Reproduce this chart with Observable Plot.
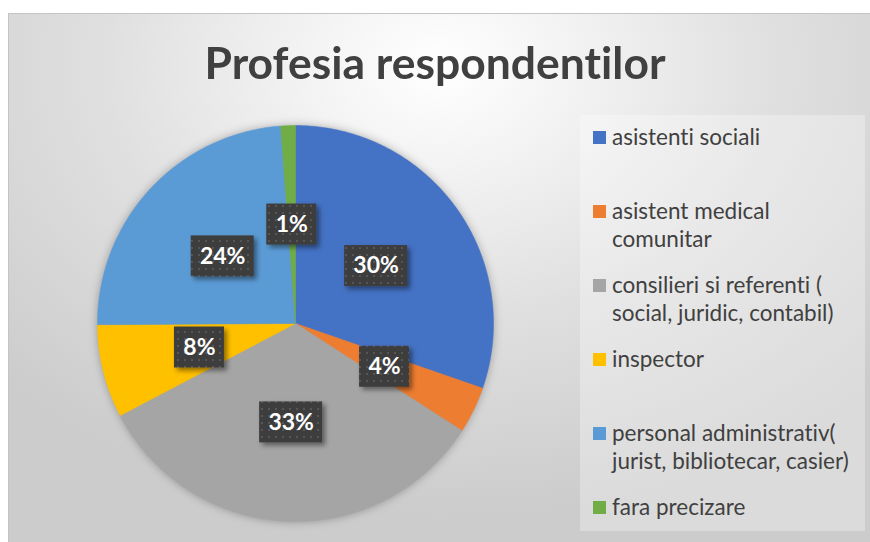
<!DOCTYPE html>
<html><head><meta charset="utf-8">
<script src="https://cdn.jsdelivr.net/npm/d3@7"></script>
<script src="https://cdn.jsdelivr.net/npm/@observablehq/plot@0.6"></script>
<style>
body{margin:0;background:#fff;}
#wrap{position:relative;width:870px;height:542px;overflow:hidden;font-family:Lato,"Open Sans",sans-serif;font-variant-ligatures:none;}
#bg{position:absolute;left:8px;top:13px;width:862px;height:529px;border-left:1px solid #c4c4c4;border-top:1px solid #c4c4c4;box-sizing:border-box;
background:radial-gradient(ellipse 70% 85% at 50% 10%, #ffffff 0%, #f3f3f3 22%, #e0e0e0 55%, #cccccc 100%);}
#title{position:absolute;left:0;width:870px;top:41px;text-align:center;font-size:43px;line-height:43px;font-weight:bold;color:#404040;white-space:nowrap;}
#title span{display:inline-block;transform-origin:50% 50%;}
#legend{position:absolute;left:580px;top:115px;width:285px;height:416px;background:rgba(255,255,255,0.3);}
.li{position:absolute;left:0;width:285px;font-size:22.5px;line-height:28px;color:#404040;}
.sw{position:absolute;left:13px;top:8px;width:13px;height:13px;}
.lt{position:absolute;left:32px;top:0;white-space:pre;}
#plot{position:absolute;left:0;top:0;}
#plot text{font-variant-ligatures:none;}
</style></head>
<body>
<div id="wrap">
  <div id="bg"></div>
  <div id="plot"></div>
  <div id="title"><span>Profesia respondentilor</span></div>
  <div id="legend"></div>
</div>
<script>
// ---- data ----
const categories = [
  "asistenti sociali",
  "asistent medical comunitar",
  "consilieri si referenti ( social, juridic, contabil)",
  "inspector",
  "personal administrativ( jurist, bibliotecar, casier)",
  "fara precizare"
];
const values = [30.3, 3.8, 33.2, 7.6, 23.9, 1.2];
const colors = ["#4472C4", "#ED7D31", "#A5A5A5", "#FFC000", "#5B9BD5", "#70AD47"];
const legendLines = [
  ["asistenti sociali"],
  ["asistent medical", "comunitar"],
  ["consilieri si referenti (", "social, juridic, contabil)"],
  ["inspector"],
  ["personal administrativ(", "jurist, bibliotecar, casier)"],
  ["fara precizare"]
];

// ---- geometry from data ----
const R = 198;               // pie radius in px
const CX = 295, CY = 323;    // pie centre in px
const W = 870, H = 542;
const total = d3.sum(values);
const arcs = d3.pie().sort(null).startAngle(0).endAngle(2 * Math.PI)(values);

const slices = [];
arcs.forEach((a, i) => {
  const name = categories[i];
  slices.push({name, x: 0, y: 0});
  const n = Math.max(2, Math.ceil((a.endAngle - a.startAngle) / 0.01));
  for (let k = 0; k <= n; k++) {
    const t = a.startAngle + (a.endAngle - a.startAngle) * k / n;
    slices.push({name, x: Math.sin(t), y: Math.cos(t)});
  }
  slices.push({name, x: 0, y: 0});
});

const labels = arcs.map((a, i) => {
  const m = (a.startAngle + a.endAngle) / 2;
  const text = Math.round(values[i] / total * 100) + "%";
  const w = (13 * text.length + 24) / R / 2, h = 41 / R / 2;
  const x = 0.5 * Math.sin(m), y = 0.5 * Math.cos(m);
  return {name: categories[i], text, x, y, x1: x - w, x2: x + w, y1: y - h, y2: y + h};
});

const sliceMarks = categories.map((c, i) =>
  Plot.line(slices.filter(d => d.name === c), {x: "x", y: "y", fill: colors[i], stroke: colors[i], strokeWidth: 0.5, className: "slice"})
);

const svg = Plot.plot({
  width: W, height: H, margin: 0,
  x: {domain: [-CX / R, (W - CX) / R], axis: null},
  y: {domain: [-(H - CY) / R, CY / R], axis: null},
  style: {background: "transparent", overflow: "visible"},
  marks: [
    Plot.dot([{x: 0, y: 0}], {x: "x", y: "y", r: R, fill: "#000", fillOpacity: 0.3, stroke: "none", className: "pieshadow"}),
    ...sliceMarks,
    Plot.rect(labels, {x1: "x1", x2: "x2", y1: "y1", y2: "y2", fill: "url(#dots)", className: "labelbox"}),
    Plot.text(labels, {x: "x", y: "y", text: "text", fill: "white", fontSize: 23, fontWeight: "bold", fontFamily: "Lato, 'Open Sans', sans-serif"})
  ]
});

// defs: dotted fill + shadows
const defs = d3.create("svg:defs");
const pat = defs.append("pattern").attr("id", "dots").attr("patternUnits", "userSpaceOnUse")
  .attr("width", 7).attr("height", 7);
pat.append("rect").attr("width", 7).attr("height", 7).attr("fill", "#3d3d3d");
pat.append("rect").attr("x", 2).attr("y", 2).attr("width", 2).attr("height", 2).attr("fill", "#575757");
const f1 = defs.append("filter").attr("id", "boxshadow").attr("x", "-20%").attr("y", "-20%").attr("width", "150%").attr("height", "150%");
f1.append("feDropShadow").attr("dx", 3).attr("dy", 3).attr("stdDeviation", 2.5).attr("flood-color", "#000").attr("flood-opacity", 0.45);
const f2 = defs.append("filter").attr("id", "blur").attr("x", "-20%").attr("y", "-20%").attr("width", "140%").attr("height", "140%");
f2.append("feGaussianBlur").attr("stdDeviation", 5);
svg.insertBefore(defs.node(), svg.firstChild);
svg.querySelectorAll(".labelbox rect").forEach(r => r.setAttribute("filter", "url(#boxshadow)"));
svg.querySelectorAll(".pieshadow circle").forEach(r => r.setAttribute("filter", "url(#blur)"));
document.getElementById("plot").appendChild(svg);

// legend
const legend = d3.select("#legend");
categories.forEach((c, i) => {
  const item = legend.append("div").attr("class", "li").style("top", (22 + i * 74 - 14) + "px");
  item.append("div").attr("class", "sw").style("background", colors[i]);
  item.append("div").attr("class", "lt").text(legendLines[i].join("\n"));
});

// fit title width to reference
const span = document.querySelector("#title span");
const tw = span.getBoundingClientRect().width;
span.style.transform = `scaleX(${461 / tw})`;
</script>
</body></html>
